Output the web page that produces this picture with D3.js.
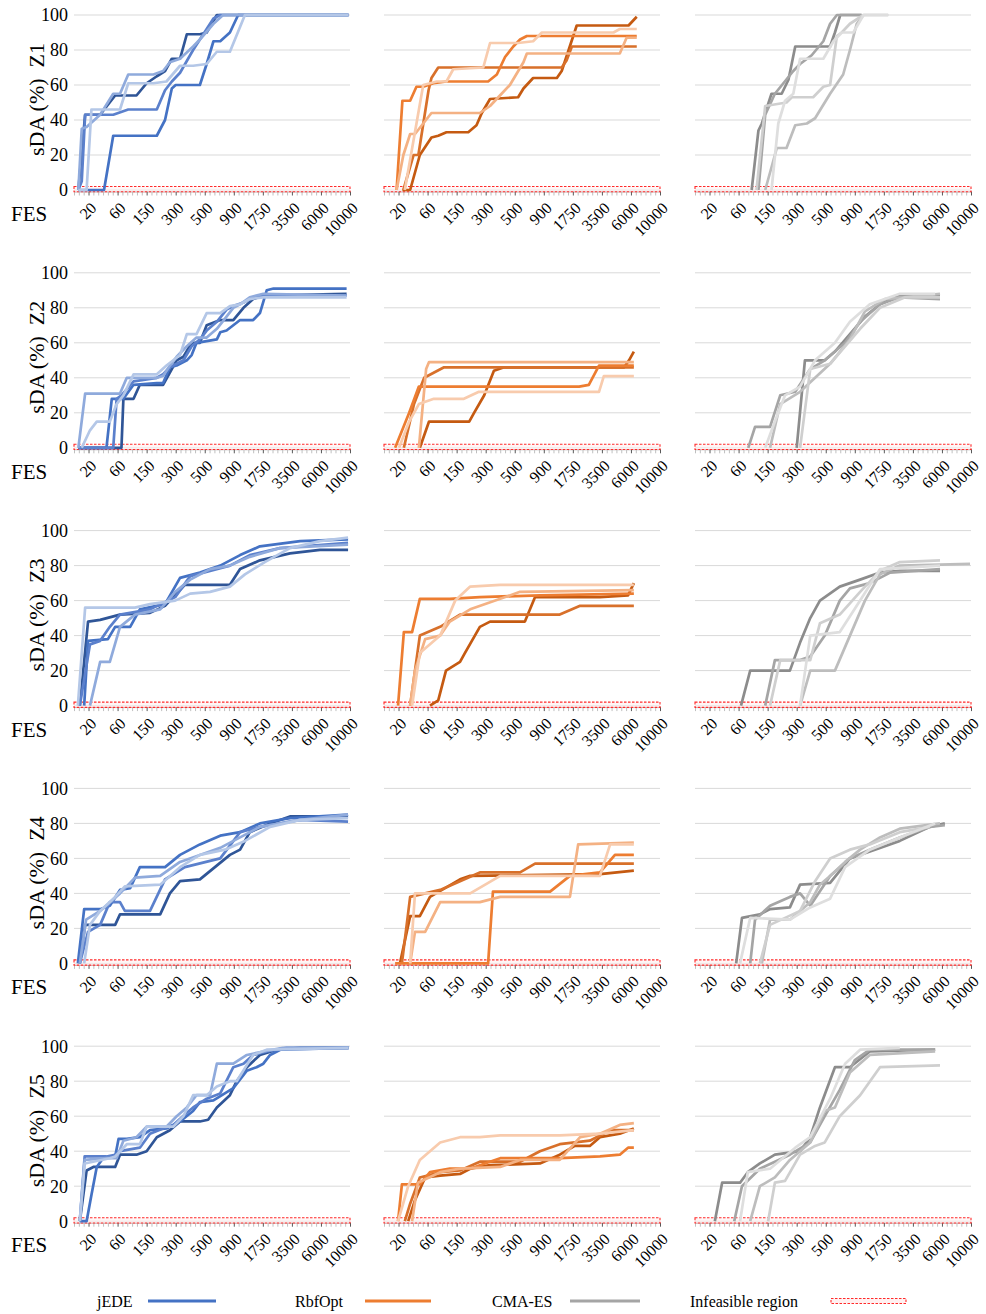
<!DOCTYPE html>
<html>
<head>
<meta charset="utf-8">
<script src="https://cdn.jsdelivr.net/npm/d3@7"></script>
<style>
  body { margin: 0; background: #fff; }
  svg { display: block; font-family: "Liberation Serif", "Times New Roman", serif; }
</style>
</head>
<body>
<svg id="chart" width="986" height="1314"></svg>
<script>
// ---- axis definitions ----
const fesLabels = ["20", "60", "150", "300", "500", "900", "1750", "3500", "6000", "10000"];
const fesSteps = 57;            // number of FES category intervals on the axis
const labelFirst = 3, labelEvery = 6;
const yTicks = [0, 20, 40, 60, 80, 100];
const infeasibleBand = [-1, 2];
const zones = ["Z1", "Z2", "Z3", "Z4", "Z5"];
const methods = ["jEDE", "RbfOpt", "CMA-ES"];

// ---- sDA (%) runs: [FES step, value] vertices, five runs per method and zone ----
const jEDE_Z1 = [
  [[0.9,0],[2.3,43],[5.4,43],[8.5,54],[12.9,54],[15,61],[17.1,65],[18.8,68],[20.2,75],[21.9,75],[23.3,89],[26,89],[27.4,90],[29.5,100],[56.7,100]],
  [[0.9,0],[6.2,0],[8.1,31],[17.1,31],[18.8,40],[20.2,58],[21,60],[26,60],[27.4,72],[28.8,85],[30.2,85],[32.2,90],[33.9,100],[56.7,100]],
  [[0.9,0],[1.6,5],[2.3,43],[8.1,43],[11.2,46],[17.1,46],[18.8,57],[20.2,62],[21.9,67],[24.6,80],[26,86],[27.4,92],[28.8,98],[30.2,100],[56.7,100]],
  [[0.9,0],[1.6,35],[2.6,36],[5.4,43],[8.1,55],[9.5,55],[11.2,66],[16.4,66],[18.4,68],[19.8,73],[21.9,75],[24.6,82],[26,86],[28.8,95],[30.8,100],[56.7,100]],
  [[0.9,0],[2.6,0],[3.6,46],[9.5,46],[11.2,61],[16.4,61],[19.1,62],[21.9,71],[24.6,71],[27.4,72],[29.5,79],[32.2,79],[35.3,100],[56.7,100]]
];
const RbfOpt_Z1 = [
  [[3.8,0],[5.4,0],[7.4,20],[9.8,30],[11.2,31],[12.9,33],[17.4,33],[19.1,37],[20.2,44],[21.9,52],[27.7,53],[28.8,58],[30.8,64],[35.7,64],[36.7,68],[39.8,94],[50.5,94],[52.2,99]],
  [[4.0,0],[6.1,20],[7.1,20],[9.2,57],[9.8,64],[11.2,70],[36.7,70],[37.7,74],[38.8,82],[52.2,82]],
  [[2.6,0],[3.8,51],[5.4,51],[6.7,59],[8.1,59],[10.2,61],[12.9,62],[21.5,62],[23.3,66],[25,76],[26.7,82],[28.1,86],[29.5,88],[52.2,88]],
  [[2.6,0],[4.0,20],[5.4,32],[6.4,32],[9.8,44],[19.8,44],[21.9,48],[23.6,53],[26,60],[28.8,73],[29.5,78],[48.7,78],[50.1,87],[52.2,87]],
  [[4.3,0],[8.1,60],[10.9,62],[12.9,62],[14.3,69],[20.5,70],[21.9,84],[27.7,84],[30.8,85],[32.6,90],[47.4,90],[48.7,92],[52.2,92]]
];
const CMAES_Z1 = [
  [[11.7,0],[13.1,34],[13.8,38],[15.8,55],[17.9,55],[19.3,63],[20.7,82],[27.9,82],[28.9,90],[30,100],[34.4,100]],
  [[13.1,0],[14.5,43],[16.5,55],[20.3,68],[21.7,72],[24.1,77],[26.5,85],[27.9,95],[29.3,100],[34.4,100]],
  [[14.5,0],[16.9,24],[18.9,24],[20.7,37],[23.1,38],[24.8,41],[27.9,55],[30.6,66],[32,80],[33.4,95],[34.8,100],[39.9,100]],
  [[12.7,0],[14.5,48],[18.9,50],[20,53],[24.4,53],[26.5,59],[27.9,60],[29.3,88],[30.3,90],[32,95],[34.8,100]],
  [[15.8,0],[17.2,38],[18.6,51],[20.3,55],[21.7,75],[26.5,75],[28.6,85],[30.3,90],[32.7,90],[34.8,100],[39.9,100]]
];

const jEDE_Z2 = [
  [[0.9,0],[9.8,0],[10.2,28],[12.3,28],[13.6,36],[18.4,36],[19.8,43],[21.2,50],[22.6,52],[24.3,60],[26,60],[27.4,70],[30.2,73],[32.9,73],[35,80],[37,85],[39.1,87],[56.3,88]],
  [[0.9,0],[6.7,0],[7.8,28],[10.2,28],[12.3,36],[17.1,37],[18.4,37],[19.8,46],[21.2,47],[23.3,50],[24.3,53],[25.3,60],[27.4,61],[29.5,62],[30.2,66],[31.5,67],[32.9,70],[34.3,73],[37,73],[38.4,77],[39.8,90],[41.2,91],[56.3,91]],
  [[0.9,0],[8.1,0],[8.8,28],[9.8,30],[12.3,38],[17.1,40],[18.4,42],[19.8,46],[21.2,48],[22.6,50],[24.3,58],[26,62],[27.4,67],[29.5,72],[31.5,79],[32.9,81],[35,83],[37,86],[39.1,87],[56.3,87]],
  [[0.9,0],[2.3,31],[9.5,31],[10.9,40],[17.1,40],[18.4,41],[19.8,47],[21.2,52],[23.3,58],[25.3,63],[27.4,63],[29.5,68],[31.5,75],[32.9,80],[34.3,82],[36.3,86],[39.1,88],[56.3,87]],
  [[1.6,0],[3.3,10],[4.7,15],[7.4,15],[8.8,25],[10.2,30],[12.3,42],[17.1,42],[19.1,47],[20.5,50],[21.9,53],[23.3,65],[25.3,65],[27.4,77],[30.2,77],[32.2,81],[34.3,82],[36.3,85],[39.1,86],[56.3,86]]
];
const RbfOpt_Z2 = [
  [[7.4,0],[9.3,15],[17.6,15],[18.6,20],[20.7,30],[22.7,44],[24.8,46],[49.6,46],[50.6,50],[51.6,55]],
  [[4.1,0],[6.2,25],[8.3,40],[12.4,46],[47.5,46],[51.6,46]],
  [[2.3,0],[5.2,20],[7.2,35],[40.3,35],[42.3,36],[44.4,47],[51.6,47]],
  [[7.2,0],[8.7,45],[9.3,49],[51.6,49]],
  [[3.1,0],[5.2,15],[7.2,25],[10.3,28],[16.5,28],[19.6,32],[44.4,32],[45.4,41],[51.6,41]]
];
const CMAES_Z2 = [
  [[21,0],[22.7,50],[26.8,50],[28.9,55],[32,65],[35.1,75],[38.2,82],[42.3,87],[50.6,87]],
  [[11,0],[12.4,12],[15.5,12],[17.6,30],[20.7,32],[23.8,45],[26.8,50],[31,60],[34.1,72],[38.2,82],[42.3,86],[50.6,85]],
  [[15.5,0],[17.6,25],[21.7,32],[24.8,40],[27.9,48],[32,62],[35.1,78],[39.2,85],[50.6,88]],
  [[21.7,0],[23.8,45],[27.9,48],[31,58],[34.1,68],[38.2,80],[43.4,86],[50.6,86]],
  [[14.5,0],[16.5,15],[18.6,30],[21.7,35],[24.8,50],[28.9,60],[32,72],[36.1,82],[42.3,88],[49.6,88]]
];

const jEDE_Z3 = [
  [[1.2,0],[2.9,48],[5.4,49],[9.5,52],[15.7,53],[18.8,57],[22.9,69],[32.2,69],[34.3,78],[38.4,83],[44.6,87],[50.8,89],[56.6,89]],
  [[2.1,0],[2.9,37],[7,38],[8.5,45],[11.6,45],[13.6,55],[18.8,58],[21.9,73],[26,76],[30.2,80],[34.3,86],[38.4,91],[46.7,94],[56.6,95]],
  [[1.2,0],[3.3,35],[5.4,37],[7.4,45],[9.5,52],[15.7,55],[20.9,62],[24,74],[28.1,77],[32.2,80],[36.3,86],[42.5,90],[56.6,93]],
  [[3.3,0],[5.4,25],[7.4,25],[9.5,45],[12.6,52],[17.8,55],[20.9,65],[24,72],[28.1,78],[32.2,80],[36.3,85],[42.5,90],[56.6,92]],
  [[0.8,0],[2.3,56],[12.6,56],[15.7,58],[20.9,60],[24,64],[28.1,65],[32.2,68],[35.3,75],[39.4,82],[44.6,90],[50.8,94],[56.6,96]]
];
const RbfOpt_Z3 = [
  [[9.5,0],[11.2,3],[12.8,20],[15.7,25],[16.7,30],[19.8,45],[21.9,48],[29.1,48],[31.2,62],[44.6,62],[50.4,63],[51.6,70]],
  [[5.4,0],[7.4,40],[11.6,45],[15.7,52],[36.3,52],[40.5,57],[51.6,57]],
  [[2.9,0],[4.1,42],[5.8,42],[7.4,61],[13.6,61],[19.8,62],[32.2,63],[51.6,64]],
  [[5.4,0],[6.4,20],[8.5,38],[11.6,40],[13.6,48],[17.8,55],[28.1,65],[51.6,66]],
  [[5.8,0],[7.4,30],[11.6,40],[14.7,60],[17.8,68],[24,69],[51.6,69]]
];
const CMAES_Z3 = [
  [[9.5,0],[11.4,20],[19.6,20],[21.7,36],[23.8,50],[25.8,60],[29.9,68],[34.1,72],[38.2,76],[42.3,77],[50.6,77]],
  [[14.5,0],[16.5,26],[21.7,26],[23.8,28],[26.8,40],[29.9,60],[32,67],[36.1,70],[40.3,76],[50.6,78]],
  [[21.7,0],[23.8,20],[28.9,20],[32,40],[35.1,60],[38.2,75],[42.3,80],[56.8,81]],
  [[15.5,0],[17.6,26],[23.8,26],[25.8,47],[29.9,52],[34.1,65],[38.2,77],[42.3,82],[50.6,83]],
  [[21.7,0],[23.8,40],[29.9,42],[34.1,60],[38.2,78],[50.6,80]]
];

const jEDE_Z4 = [
  [[1.2,0],[2.3,22],[8.5,22],[9.5,28],[17.8,28],[19.8,40],[21.9,47],[26,48],[29.1,55],[32.2,62],[34.3,65],[36.3,75],[40.5,80],[44.6,84],[56.6,84]],
  [[0.8,0],[2.1,31],[5.4,31],[7.4,33],[9.5,42],[11.6,43],[13.6,55],[18.8,55],[21.9,62],[26,68],[30.2,73],[34.3,75],[38.4,80],[44.6,83],[56.6,85]],
  [[1.2,0],[2.9,18],[5.4,22],[7.4,35],[9.5,35],[10.5,30],[15.7,30],[18.8,48],[22.9,55],[30.2,60],[34.3,75],[38.4,78],[46.7,82],[56.6,81]],
  [[1.2,0],[2.5,25],[5.4,30],[9.5,40],[12.6,49],[17.8,50],[21.9,58],[26,62],[30.2,66],[34.3,72],[38.4,78],[46.7,82],[56.6,85]],
  [[2.1,0],[3.3,22],[5.4,30],[8.5,38],[10.5,44],[17.8,45],[21.9,55],[26,62],[31.2,65],[35.3,70],[40.5,78],[46.7,82],[56.6,83]]
];
const RbfOpt_Z4 = [
  [[3.3,0],[5.4,27],[7.4,27],[9.5,38],[15.7,48],[17.8,50],[44.6,51],[51.6,53]],
  [[3.7,0],[5.4,38],[8.5,40],[11.6,42],[15.7,47],[19.8,52],[28.1,52],[31.2,57],[51.6,57]],
  [[2.3,0],[21.5,0],[22.5,41],[34.3,41],[38.4,50],[44.6,52],[47.7,62],[51.6,62]],
  [[5.4,0],[6.4,18],[8.5,18],[11.6,35],[19.8,35],[24,38],[38.4,38],[40.1,68],[51.6,69]],
  [[5.4,0],[6.4,40],[17.8,40],[24,50],[44.6,50],[46.7,68],[51.6,68]]
];
const CMAES_Z4 = [
  [[8.5,0],[9.7,26],[13.4,28],[15.5,31],[19.6,32],[21.7,45],[27.9,46],[32,60],[38.2,66],[42.3,70],[48.5,78],[51.6,80]],
  [[11.4,0],[12.4,25],[15.5,33],[19.6,38],[21.7,40],[23.8,33],[27.9,50],[32,60],[36.1,65],[42.3,72],[48.5,78],[51.6,79]],
  [[13.8,0],[15.5,25],[19.6,25],[23.8,35],[25.8,45],[27.9,50],[31,58],[34.1,65],[38.2,72],[42.3,77],[50.6,80]],
  [[13.4,0],[15.5,22],[21.7,30],[24.8,47],[27.9,60],[32,65],[36.1,68],[42.3,75],[48.5,78]],
  [[9.3,0],[11.4,26],[19.6,25],[23.8,32],[27.9,37],[31,55],[36.1,65],[42.3,72],[49.6,80]]
];

const jEDE_Z5 = [
  [[1.2,0],[2.6,29],[4,31],[8.5,31],[9.5,38],[12.9,38],[15,40],[17.1,48],[19.8,52],[21.9,57],[26,57],[27.7,58],[29.5,65],[32.2,72],[33.6,80],[35.7,88],[38.4,95],[41.9,98],[46.7,99],[56.7,99]],
  [[1.2,0],[2.6,0],[3.6,15],[4.7,31],[6,36],[8.5,37],[9.2,47],[10.9,47],[13.6,48],[15.7,52],[19.1,53],[21.9,57],[24.6,63],[26,68],[28.8,69],[32.9,76],[35.7,86],[37.7,88],[39.1,90],[40.5,95],[42.6,98],[56.7,99]],
  [[1.2,0],[2.2,37],[6.7,37],[8.5,38],[9.5,40],[13.6,42],[15.7,50],[18.4,53],[20.5,55],[23.3,62],[24.6,65],[27.4,70],[30.2,73],[32.9,88],[35,90],[37,95],[39.8,97],[43.9,99],[56.7,99]],
  [[1.2,0],[2.2,35],[6.7,36],[8.8,36],[10.2,46],[12.9,48],[15,54],[19.1,54],[21.2,60],[23.3,65],[25.3,72],[28.1,72],[29.5,90],[32.9,90],[35.7,95],[39.1,97],[43.2,99],[56.7,99]],
  [[1.2,0],[2.2,33],[7.4,36],[8.5,37],[10.9,44],[13.6,44],[15,54],[20.5,54],[22.6,60],[24.6,72],[27.4,72],[29.5,77],[32.2,80],[33.6,80],[37,95],[39.8,98],[56.7,99]]
];
const RbfOpt_Z5 = [
  [[5,0],[6.4,12],[8.5,25],[11.6,26],[15.7,27],[17.8,30],[21.9,32],[32.2,33],[36.3,38],[39.4,43],[42.5,43],[44.6,48],[48.7,50],[51.6,53]],
  [[4.3,0],[5.4,10],[7.4,25],[11.6,28],[15.7,29],[19.8,34],[28.1,34],[32.2,40],[36.3,44],[42.5,46],[46.7,52],[51.6,52]],
  [[2.9,0],[3.7,21],[7.4,21],[9.5,28],[13.6,30],[17.8,30],[19.8,32],[24,36],[36.3,36],[44.6,37],[48.7,38],[50.4,42],[51.6,42]],
  [[5.8,0],[7,22],[11.6,28],[15.7,30],[24,31],[28.1,35],[36.3,35],[40.5,48],[44.6,50],[48.7,55],[51.6,56]],
  [[2.9,0],[5,20],[7.4,35],[11.6,45],[15.7,48],[19.8,48],[24,49],[36.3,49],[44.6,50],[51.6,52]]
];
const CMAES_Z5 = [
  [[4.1,0],[5.6,22],[9.3,22],[10.9,28],[13.4,33],[16.5,38],[21.7,40],[23.8,48],[25.8,65],[28.9,88],[32,88],[36.1,97],[49.6,98]],
  [[8.1,0],[9.7,20],[13.4,30],[19.6,38],[23.8,45],[26.8,60],[29.9,75],[33,92],[36.1,98],[49.6,98]],
  [[11.4,0],[13.4,20],[16.5,25],[19.6,35],[23.8,45],[26.8,63],[28.9,65],[32,85],[36.1,95],[49.6,97]],
  [[15.1,0],[16.5,22],[18.6,23],[21.7,38],[24.8,43],[26.8,45],[29.9,60],[34.1,72],[38.2,88],[50.6,89]],
  [[9.3,0],[10.9,28],[15.5,30],[20.7,42],[23.8,48],[27.9,70],[31,90],[34.1,98],[42.3,99]]
];

const runsByMethod = {
  "jEDE":   [jEDE_Z1, jEDE_Z2, jEDE_Z3, jEDE_Z4, jEDE_Z5],
  "RbfOpt": [RbfOpt_Z1, RbfOpt_Z2, RbfOpt_Z3, RbfOpt_Z4, RbfOpt_Z5],
  "CMA-ES": [CMAES_Z1, CMAES_Z2, CMAES_Z3, CMAES_Z4, CMAES_Z5]
};

// one shade per run, plus the legend colour of each method
const shades = {
  "jEDE":   ["#2f5597", "#4472c4", "#5b80cc", "#8faadc", "#b4c7e7"],
  "RbfOpt": ["#c55a11", "#d8702a", "#ed7d31", "#f4b183", "#f8cbad"],
  "CMA-ES": ["#8c8c8c", "#a5a5a5", "#bdbdbd", "#cfcfcf", "#dedede"]
};
const legendColor = { "jEDE": "#4472c4", "RbfOpt": "#ed7d31", "CMA-ES": "#a5a5a5" };
const infeasibleColor = "#ff2a2a";

// ---- layout ----
const svg = d3.select("#chart");
const colLeft = [74, 384, 695], panelW = 276;
const rowTop0 = 15, rowStep = 257.8, panelH = 175;

zones.forEach((zone, r) => {
  const top = rowTop0 + r * rowStep;
  const y = d3.scaleLinear().domain([0, 100]).range([top + panelH, top]);

  methods.forEach((method, c) => {
    const x = d3.scaleLinear().domain([0, fesSteps]).range([colLeft[c], colLeft[c] + panelW]);
    const g = svg.append("g");

    // horizontal gridlines
    g.selectAll("line.grid").data(yTicks).join("line")
      .attr("x1", x(0)).attr("x2", x(fesSteps))
      .attr("y1", d => y(d)).attr("y2", d => y(d))
      .attr("stroke", "#d9d9d9").attr("stroke-width", 1);

    // category axis with a tick between every FES step
    const axis = g.append("g")
      .attr("transform", `translate(0,${y(0) + 1.5})`)
      .call(d3.axisBottom(x).tickValues(d3.range(0, fesSteps + 1)).tickSize(4).tickSizeOuter(0).tickFormat(""));
    axis.select(".domain").attr("stroke", "#bfbfbf");
    axis.selectAll(".tick line")
      .attr("stroke", d => (d - labelFirst) % labelEvery === 0 && d >= labelFirst ? "#595959" : "#bfbfbf");

    // rotated FES labels
    g.selectAll("text.fes").data(fesLabels).join("text")
      .attr("transform", (d, i) => `translate(${x(labelFirst + i * labelEvery) + 9},${y(0) + 19}) rotate(-45)`)
      .attr("text-anchor", "end")
      .attr("font-size", 16)
      .attr("fill", "#000")
      .text(d => d);

    // infeasible band
    g.append("rect")
      .attr("x", x(0)).attr("width", x(fesSteps) - x(0))
      .attr("y", y(infeasibleBand[1])).attr("height", y(infeasibleBand[0]) - y(infeasibleBand[1]))
      .attr("fill", "#fff0f0").attr("fill-opacity", 0.6)
      .attr("stroke", infeasibleColor).attr("stroke-width", 1.1)
      .attr("stroke-dasharray", "2.5,1.5");

    // runs
    const line = d3.line().x(d => x(d[0])).y(d => y(d[1]));
    const runs = runsByMethod[method][r];
    g.selectAll("path.run").data(runs).join("path")
      .attr("d", line)
      .attr("fill", "none")
      .attr("stroke", (d, i) => shades[method][i])
      .attr("stroke-width", 2.7)
      .attr("stroke-linejoin", "round");

    if (c === 0) {
      g.selectAll("text.ytick").data(yTicks).join("text")
        .attr("x", 68).attr("y", d => y(d))
        .attr("dy", "0.35em")
        .attr("text-anchor", "end")
        .attr("font-size", 18)
        .text(d => d);

      g.append("text")
        .attr("transform", `translate(44,${(y(0) + y(100)) / 2 - 3}) rotate(-90)`)
        .attr("text-anchor", "middle")
        .attr("font-size", 22)
        .attr("xml:space", "preserve")
        .text(`sDA (%)\u00a0\u00a0${zone}`);

      g.append("text")
        .attr("x", 11).attr("y", y(0) + 31)
        .attr("font-size", 21)
        .text("FES");
    }
  });
});

// ---- legend ----
const legendY = 1301;
const legendItems = [
  { name: "jEDE", tx: 97, lx: 148, lw: 68 },
  { name: "RbfOpt", tx: 295, lx: 365, lw: 66 },
  { name: "CMA-ES", tx: 492, lx: 570, lw: 70 }
];
const lg = svg.append("g");
legendItems.forEach(it => {
  lg.append("text").attr("x", it.tx).attr("y", legendY + 6).attr("font-size", 16).text(it.name);
  lg.append("line").attr("x1", it.lx).attr("x2", it.lx + it.lw)
    .attr("y1", legendY).attr("y2", legendY)
    .attr("stroke", legendColor[it.name]).attr("stroke-width", 3);
});
lg.append("text").attr("x", 690).attr("y", legendY + 6).attr("font-size", 16).text("Infeasible region");
lg.append("rect").attr("x", 831).attr("y", legendY - 2.5).attr("width", 75).attr("height", 5)
  .attr("fill", "#fff0f0").attr("stroke", infeasibleColor).attr("stroke-width", 1.1)
  .attr("stroke-dasharray", "2.5,1.5");
</script>
</body>
</html>
